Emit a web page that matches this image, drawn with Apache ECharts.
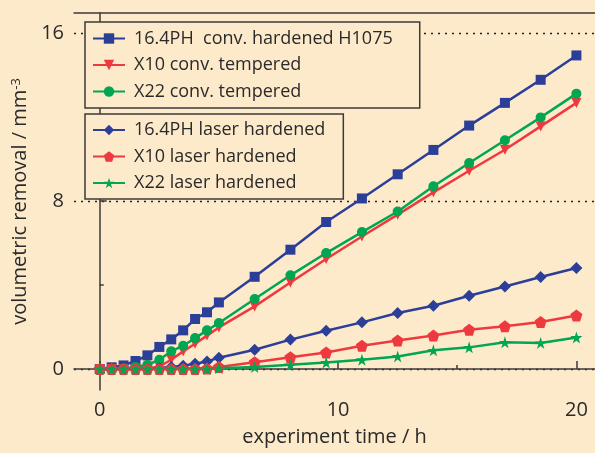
<!DOCTYPE html>
<html><head><meta charset="utf-8">
<script src="https://cdn.jsdelivr.net/npm/echarts@6/dist/echarts.min.js"></script>
<style>html,body{margin:0;padding:0;background:#fdeacb;}#c{width:595px;height:453px;}</style>
</head><body><div id="c"></div>
<script>
var times = [0,0.5,1,1.5,2,2.5,3,3.5,4,4.5,5,6.5,8,9.5,11,12.5,14,15.5,17,18.5,20];
var names = ['16.4PH  conv. hardened H1075','X10 conv. tempered','X22 conv. tempered','16.4PH laser hardened','X10 laser hardened','X22 laser hardened'];
var ph_conv  = [0,0.08,0.17,0.38,0.65,1.05,1.41,1.84,2.38,2.7,3.17,4.39,5.68,7.0,8.12,9.27,10.43,11.59,12.67,13.77,14.93];
var x10_conv = [0,0,0,0,0.02,0.12,0.44,0.84,1.2,1.59,1.98,2.98,4.12,5.24,6.31,7.35,8.41,9.44,10.44,11.55,12.67];
var x22_conv = [0,0,0.02,0.1,0.2,0.44,0.84,1.11,1.47,1.84,2.19,3.33,4.46,5.52,6.52,7.5,8.7,9.81,10.89,11.98,13.11];
var ph_laser = [0,0,0,0,0,0.05,0.1,0.16,0.25,0.36,0.54,0.92,1.4,1.82,2.22,2.67,3.01,3.49,3.93,4.38,4.81];
var x10_laser= [0,0,0,0,0,0,0,0,0,0.02,0.1,0.32,0.56,0.79,1.11,1.36,1.59,1.87,2.03,2.24,2.55];
var x22_laser= [0,0,0,0,0,0,0,0,0,0,0.04,0.09,0.2,0.31,0.44,0.6,0.89,1.03,1.27,1.24,1.5];
var yMajor = [0,8,16], yMinor = [4,12], xMajor = [0,10,20], xMinor = [5,15];

var BG = '#fdeacb', BLUE = '#2b3f98', RED = '#ee3a3f', GREEN = '#00a651', AX = '#3a3a3a';
var FF = 'Open Sans';
var pentagon = 'path://M0,-1 L0.951,-0.309 L0.588,0.809 L-0.588,0.809 L-0.951,-0.309 Z';
var star = 'path://M0,-1 L0.2245,-0.309 L0.951,-0.309 L0.363,0.118 L0.588,0.809 L0,0.382 L-0.588,0.809 L-0.363,0.118 L-0.951,-0.309 L-0.2245,-0.309 Z';

function pts(arr){ return times.map(function(t,i){ return [t, arr[i]]; }); }
function ser(i, arr, color, symbol, size, rot){
  return { name: names[i], type:'line', data: pts(arr), xAxisIndex:0, yAxisIndex:0,
    symbol: symbol, symbolSize: size, symbolRotate: rot||0, showSymbol:true,
    lineStyle:{color:color, width:2.5}, itemStyle:{color:color}, animation:false };
}
var chart = echarts.init(document.getElementById('c'));
var legBase = { orient:'vertical', left:85, itemWidth:32, itemHeight:13, itemGap:8.5,
  borderColor:AX, borderWidth:1.5, backgroundColor:BG, borderRadius:0,
  textStyle:{fontFamily:FF, fontSize:18, color:'#2a2a2a', lineHeight:18, padding:[0,0,0,4]} };
chart.setOption({
  backgroundColor: BG,
  textStyle:{fontFamily:FF},
  grid:{left:74, right:0, top:13, bottom:63},
  legend:[
    Object.assign({}, legBase, {top:22, padding:[7.5,27,7.5,7], data:names.slice(0,3)}),
    Object.assign({}, legBase, {top:114, padding:[7,18,7,7], data:names.slice(3,6)})
  ],
  xAxis:[
    { type:'value', min:-1.08, max:20.78, position:'bottom',
      name:'experiment time / h', nameLocation:'middle', nameGap:37,
      nameTextStyle:{fontFamily:FF, fontSize:20, color:'#2a2a2a'},
      axisLine:{lineStyle:{color:AX, width:1.5}},
      axisTick:{inside:true, length:8, customValues:xMajor, lineStyle:{color:AX, width:1.5}},
      axisLabel:{customValues:xMajor, fontFamily:FF, fontSize:20, color:'#2a2a2a', margin:10},
      splitLine:{show:false} },
    { type:'value', min:-1.08, max:20.78, position:'bottom',
      axisLine:{show:false},
      axisTick:{inside:true, length:4, customValues:xMinor, lineStyle:{color:AX, width:1.5}},
      axisLabel:{show:false}, splitLine:{show:false} },
    { type:'value', min:-1.08, max:20.78, position:'top',
      axisLine:{lineStyle:{color:AX, width:1.5}}, axisTick:{show:false},
      axisLabel:{show:false}, splitLine:{show:false} }
  ],
  yAxis:[
    { type:'value', min:-1, max:16.95, position:'left',
      name:'volumetric removal / mm{sup|-3}', nameLocation:'middle', nameGap:37, nameRotate:90,
      nameTextStyle:{fontFamily:FF, fontSize:20, color:'#2a2a2a',
        rich:{sup:{fontFamily:FF, fontSize:13, color:'#2a2a2a', verticalAlign:'top', padding:[0,0,8,0]}}},
      axisLine:{lineStyle:{color:AX, width:1.5}},
      axisTick:{inside:true, length:7, customValues:yMajor, lineStyle:{color:AX, width:1.5}},
      axisLabel:{customValues:yMajor, fontFamily:FF, fontSize:20, color:'#2a2a2a', margin:10},
      splitLine:{show:true, lineStyle:{color:'#222', width:1.3, type:[2,5]}} },
    { type:'value', min:-1, max:16.95, position:'left',
      axisLine:{show:false},
      axisTick:{inside:true, length:4, customValues:yMinor, lineStyle:{color:AX, width:1.5}},
      axisLabel:{show:false}, splitLine:{show:false} }
  ],
  series:[
    ser(0, ph_conv, BLUE, 'rect', 10),
    ser(1, x10_conv, RED, 'triangle', 10, 180),
    ser(2, x22_conv, GREEN, 'circle', 10),
    ser(3, ph_laser, BLUE, 'diamond', 12),
    ser(4, x10_laser, RED, pentagon, 12),
    ser(5, x22_laser, GREEN, star, 12)
  ]
});
</script></body></html>
